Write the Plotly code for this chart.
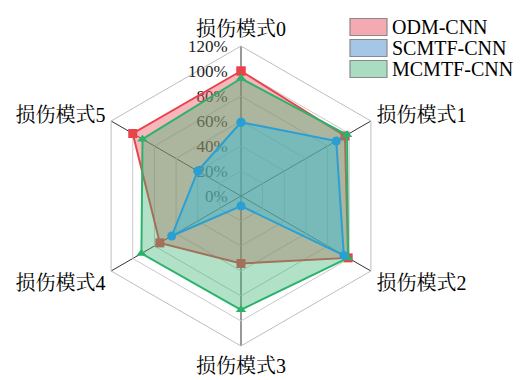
import plotly.graph_objects as go

# Damage-mode categories around the radar
categories = ["损伤模式0", "损伤模式1", "损伤模式2", "损伤模式3", "损伤模式4", "损伤模式5"]

# Recognition accuracy (%) per damage mode
odm_cnn = [100, 96, 99, 54, 75, 100]
scmtf_cnn = [59, 88, 95, 8, 64, 40]
mcmtf_cnn = [94, 98, 99, 91, 92, 91]

radial_ticks = [0, 20, 40, 60, 80, 100, 120]
radial_ticklabels = [f"{v}%" for v in radial_ticks]

series_names = ["ODM-CNN", "SCMTF-CNN", "MCMTF-CNN"]

FONT = "Liberation Serif, Times New Roman, Noto Serif CJK SC, Noto Sans CJK SC, serif"

styles = {
    "ODM-CNN": dict(line="#e8434a", fill="rgba(236,80,92,0.42)", symbol="square",
                    legend_fill="#f4aab0"),
    "SCMTF-CNN": dict(line="#2a9fd4", fill="rgba(40,195,225,0.40)", symbol="circle",
                      legend_fill="#a6c6e6"),
    "MCMTF-CNN": dict(line="#2bb36b", fill="rgba(60,180,115,0.40)", symbol="triangle-up",
                      legend_fill="#aadcc2"),
}

values = {"ODM-CNN": odm_cnn, "SCMTF-CNN": scmtf_cnn, "MCMTF-CNN": mcmtf_cnn}

fig = go.Figure()

# drawing order: ODM underneath, then MCMTF, SCMTF on top
for name in ["ODM-CNN", "MCMTF-CNN", "SCMTF-CNN"]:
    st = styles[name]
    r = values[name] + values[name][:1]
    th = categories + categories[:1]
    fig.add_trace(go.Scatterpolar(
        r=r, theta=th, name=name, mode="lines+markers",
        fill="toself", fillcolor=st["fill"],
        line=dict(color=st["line"], width=2),
        marker=dict(symbol=st["symbol"], size=9, color=st["line"]),
        showlegend=False,
    ))

fig.update_layout(
    width=521, height=380,
    margin=dict(l=0, r=0, t=0, b=0),
    paper_bgcolor="white",
    font=dict(family=FONT, color="black"),
    polar=dict(
        domain=dict(x=[91 / 521, 391 / 521], y=[34 / 380, 334 / 380]),
        gridshape="linear",
        bgcolor="white",
        radialaxis=dict(
            range=[0, 120], tickvals=radial_ticks, ticktext=radial_ticklabels,
            angle=90, tickangle=90, side="counterclockwise",
            showline=False, ticks="outside", ticklen=7, tickcolor="rgba(0,0,0,0)",
            gridcolor="#c9c9c9", gridwidth=1,
            tickfont=dict(size=17, family=FONT, color="#222"),
            layer="below traces",
        ),
        angularaxis=dict(
            direction="clockwise", rotation=90,
            categoryorder="array", categoryarray=categories,
            showline=True, linecolor="#bdbdbd", linewidth=1,
            gridcolor="#333333", gridwidth=1,
            ticks="outside", ticklen=2, tickcolor="rgba(0,0,0,0)",
            tickfont=dict(size=20, family=FONT, color="black"),
            layer="below traces",
        ),
    ),
)

# legend: swatch boxes with labels
row_y = [27, 48, 69]
for name, yc in zip(series_names, row_y):
    st = styles[name]
    fig.add_shape(type="rect", xref="paper", yref="paper",
                  x0=350 / 521, x1=387 / 521,
                  y0=1 - (yc + 8.5) / 380, y1=1 - (yc - 8.5) / 380,
                  line=dict(color="#8a8a8a", width=1.2), fillcolor=st["legend_fill"])
    fig.add_annotation(xref="paper", yref="paper", x=391 / 521, y=1 - yc / 380,
                       text=name, showarrow=False, xanchor="left", yanchor="middle",
                       borderpad=0,
                       font=dict(size=20, family=FONT, color="black"))

fig.write_html("out.html")
